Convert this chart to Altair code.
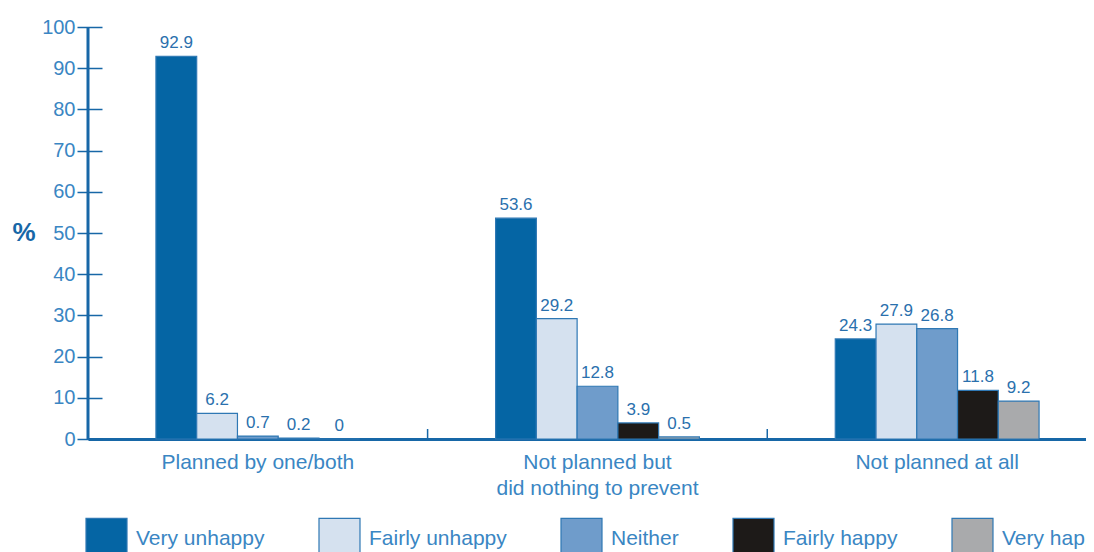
import altair as alt
import pandas as pd

groups = ["Planned by one/both", "Not planned but did nothing to prevent", "Not planned at all"]
responses = ["Very unhappy", "Fairly unhappy", "Neither", "Fairly happy", "Very happy"]
planned = [92.9, 6.2, 0.7, 0.2, 0]
not_planned_nothing = [53.6, 29.2, 12.8, 3.9, 0.5]
not_planned_all = [24.3, 27.9, 26.8, 11.8, 9.2]
colors = ["#0565a4", "#d5e1ef", "#6f9ccb", "#1d1a18", "#a9aaac"]
y_ticks = list(range(0, 101, 10))

rows = []
for g, vals in zip(groups, [planned, not_planned_nothing, not_planned_all]):
    for r, v in zip(responses, vals):
        rows.append({"group": g, "response": r, "value": v, "label": f"{v:g}"})
df = pd.DataFrame(rows)

FONT = "Liberation Sans"
AXIS_BLUE = "#1767a7"
LABEL_BLUE = "#3a86c3"
TEXT_BLUE = "#2a70ad"
STROKE_BLUE = "#2f78b4"

x_enc = alt.X(
    "group:N", sort=groups, title=None,
    scale=alt.Scale(paddingInner=0.4, paddingOuter=0.2, range=[0, 1019]),
    axis=alt.Axis(
        labelAngle=0, ticks=False, domainColor=AXIS_BLUE, domainWidth=3,
        labelFontSize=21, labelColor=LABEL_BLUE, labelPadding=12,
        labelLineHeight=26, labelLimit=400, labelOverlap=False, labelFont=FONT,
        labelExpr="datum.value == 'Not planned but did nothing to prevent' ? ['Not planned but', 'did nothing to prevent'] : datum.label",
    ),
)
xoff_enc = alt.XOffset("response:N", sort=responses,
                       scale=alt.Scale(paddingInner=0, paddingOuter=0))
y_enc = alt.Y(
    "value:Q", scale=alt.Scale(domain=[0, 100], nice=False),
    axis=alt.Axis(
        values=y_ticks, title="%", titleAngle=0, titleFontSize=26,
        titleFontWeight="bold", titleColor=AXIS_BLUE, titleFont=FONT,
        titleAlign="left", titleBaseline="middle", titleX=-90, titleY=205,
        offset=-14, tickSize=25, tickWidth=1.5, tickColor=AXIS_BLUE,
        domain=False, grid=False, labelFontSize=20, labelColor=LABEL_BLUE,
        labelPadding=2, labelFont=FONT,
    ),
)

base = alt.Chart(df)
bars = base.mark_bar(stroke=STROKE_BLUE, strokeWidth=1.2).encode(
    x=x_enc, xOffset=xoff_enc, y=y_enc,
    color=alt.Color(
        "response:N", sort=responses,
        scale=alt.Scale(domain=responses, range=colors),
        legend=alt.Legend(
            orient="none", legendX=-3, legendY=490, direction="horizontal",
            title=None, symbolType="square", symbolSize=1681,
            symbolStrokeColor=STROKE_BLUE, symbolStrokeWidth=1.2,
            labelFontSize=21, labelColor=LABEL_BLUE, labelFont=FONT,
            columnPadding=51, labelOffset=8, padding=0, labelLimit=300,
        ),
    ),
)
text = base.mark_text(baseline="bottom", dy=-4, fontSize=17, color=TEXT_BLUE, font=FONT).encode(
    x=alt.X("group:N", sort=groups), xOffset=alt.XOffset("response:N", sort=responses),
    y=alt.Y("value:Q"), text="label:N",
)
ydomain = alt.Chart(pd.DataFrame({"a": [0]})).mark_rule(color=AXIS_BLUE, strokeWidth=3).encode(
    x=alt.value(0), y=alt.value(0), y2=alt.value(413)
)
seps = alt.Chart(pd.DataFrame({"group": groups[1:]})).mark_rule(
    color=AXIS_BLUE, strokeWidth=1.5, xOffset=-68
).encode(
    x=alt.X("group:N", sort=groups, bandPosition=0), y=alt.value(412), y2=alt.value(402)
)

chart = alt.layer(bars, text, ydomain, seps).properties(
    width=998, height=412, autosize="none",
    padding={"left": 80, "top": 19, "right": 0, "bottom": 130},
).configure(font=FONT).configure_view(stroke=None)

chart.save("out.html", embed_options={"renderer": "svg", "actions": False})
